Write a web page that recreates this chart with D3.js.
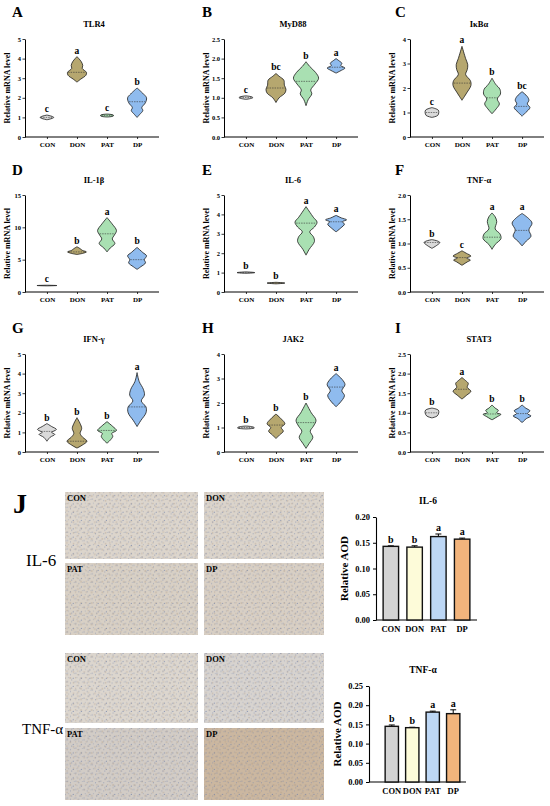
<!DOCTYPE html>
<html lang="en">
<head>
  <meta charset="UTF-8">
  <title></title>
  <style>
    html, body { margin: 0; padding: 0; background: #fff; overflow: hidden; }
    svg { display: block; background: #fff; }
  </style>
</head>
<body>
  <svg></svg>
</body>
<script src="https://d3js.org/d3.v7.min.js"></script>
<script type="text/javascript">
  // ---- data ----
  const groups = ['CON', 'DON', 'PAT', 'DP']
  const genes = ['TLR4', 'MyD88', 'IκBα', 'IL-1β', 'IL-6', 'TNF-α', 'IFN-γ', 'JAK2', 'STAT3']
  const panelLetters = ['A', 'B', 'C', 'D', 'E', 'F', 'G', 'H', 'I']
  const yMaxes = [5, 2.5, 4, 15, 5, 2, 5, 4, 2.5]
  const yTickSteps = [1, 0.5, 1, 5, 1, 0.5, 1, 1, 0.5]

  const sigLetters = [
    ['c', 'a', 'c', 'b'], ['c', 'bc', 'b', 'a'], ['c', 'a', 'b', 'bc'],
    ['c', 'b', 'a', 'b'], ['b', 'b', 'a', 'a'], ['b', 'c', 'a', 'a'],
    ['b', 'b', 'b', 'a'], ['b', 'b', 'b', 'a'], ['b', 'a', 'b', 'b']
  ]

  const medians = [
    [1.0, 3.3, 1.1, 1.8], [1.01, 1.25, 1.42, 1.78], [1.0, 2.2, 1.6, 1.25],
    [1.0, 6.2, 9.0, 5.0], [1.0, 0.46, 3.55, 3.62], [1.02, 0.71, 1.13, 1.27],
    [1.05, 0.55, 1.1, 2.3], [1.0, 1.1, 1.2, 2.65], [1.0, 1.6, 0.97, 0.98]
  ]

  // violin outlines: [value, density], bottom tip to top tip
  const tlr4 = [
    [[0.88, 0], [0.95, 0.5], [1.0, 0.65], [1.05, 0.5], [1.12, 0]],
    [[2.8, 0], [2.95, 0.35], [3.15, 0.85], [3.3, 0.9], [3.5, 0.5], [3.65, 0.55], [3.85, 0.4], [4.1, 0]],
    [[1.02, 0], [1.07, 0.6], [1.12, 0.6], [1.17, 0]],
    [[1.0, 0], [1.15, 0.25], [1.35, 0.55], [1.5, 0.45], [1.75, 0.8], [2.0, 0.9], [2.2, 0.6], [2.5, 0]]
  ]
  const myd88 = [
    [[0.96, 0], [1.0, 0.65], [1.02, 0.6], [1.05, 0]],
    [[0.88, 0], [1.0, 0.3], [1.12, 0.85], [1.22, 0.95], [1.32, 0.8], [1.45, 0.75], [1.55, 0.3], [1.62, 0]],
    [[0.8, 0], [0.95, 0.2], [1.1, 0.55], [1.2, 0.45], [1.35, 0.85], [1.5, 1.2], [1.65, 0.9], [1.8, 0.35], [1.92, 0]],
    [[1.63, 0], [1.7, 0.5], [1.76, 0.85], [1.82, 0.45], [1.88, 0.55], [1.95, 0.25], [2.0, 0]]
  ]
  const ikba = [
    [[0.8, 0], [0.88, 0.55], [1.0, 0.65], [1.1, 0.6], [1.2, 0]],
    [[1.5, 0], [1.8, 0.45], [2.1, 0.85], [2.3, 0.8], [2.55, 0.35], [2.75, 0.5], [2.95, 0.55], [3.2, 0.35], [3.7, 0]],
    [[0.95, 0], [1.15, 0.4], [1.35, 0.7], [1.55, 0.5], [1.75, 0.8], [1.95, 0.75], [2.15, 0.35], [2.4, 0]],
    [[0.85, 0], [1.0, 0.35], [1.2, 0.75], [1.35, 0.5], [1.5, 0.65], [1.65, 0.5], [1.85, 0]]
  ]
  const il1b = [
    [[0.95, 0], [1.0, 0.95], [1.05, 0]],
    [[5.8, 0], [6.0, 0.6], [6.2, 0.9], [6.45, 0.5], [6.7, 0.3], [7.0, 0]],
    [[6.2, 0], [6.8, 0.3], [7.5, 0.75], [8.2, 0.5], [8.8, 0.7], [9.5, 0.9], [10.5, 0.5], [11.5, 0]],
    [[3.5, 0], [3.9, 0.35], [4.5, 0.8], [5.0, 0.7], [5.6, 0.9], [6.1, 0.55], [6.9, 0]]
  ]
  const il6 = [
    [[0.96, 0], [1.0, 0.85], [1.04, 0]],
    [[0.42, 0], [0.46, 0.85], [0.5, 0]],
    [[1.9, 0], [2.2, 0.3], [2.6, 0.8], [2.85, 0.7], [3.1, 0.35], [3.35, 0.8], [3.6, 1.05], [3.85, 0.7], [4.4, 0]],
    [[3.1, 0], [3.3, 0.45], [3.5, 0.8], [3.62, 0.6], [3.72, 1.0], [3.82, 0.5], [3.95, 0]]
  ]
  const tnfa = [
    [[0.9, 0], [0.96, 0.45], [1.02, 0.75], [1.05, 0.55], [1.08, 0]],
    [[0.55, 0], [0.62, 0.5], [0.66, 0.8], [0.7, 0.45], [0.74, 0.85], [0.8, 0.4], [0.85, 0]],
    [[0.88, 0], [0.98, 0.3], [1.1, 0.85], [1.2, 0.75], [1.3, 0.3], [1.45, 0.45], [1.55, 0.3], [1.63, 0]],
    [[0.95, 0], [1.05, 0.4], [1.15, 0.85], [1.28, 0.65], [1.42, 0.95], [1.52, 0.6], [1.62, 0]]
  ]
  const ifng = [
    [[0.55, 0], [0.75, 0.3], [0.9, 0.75], [1.0, 0.45], [1.15, 0.9], [1.3, 0.45], [1.45, 0]],
    [[0.2, 0], [0.35, 0.5], [0.55, 0.95], [0.75, 0.55], [0.95, 0.3], [1.2, 0.45], [1.45, 0.3], [1.75, 0]],
    [[0.45, 0], [0.6, 0.3], [0.8, 0.55], [0.95, 0.45], [1.1, 0.9], [1.3, 0.55], [1.55, 0]],
    [[1.3, 0], [1.6, 0.35], [2.0, 0.85], [2.3, 0.85], [2.6, 0.4], [2.9, 0.7], [3.2, 0.6], [3.6, 0.2], [4.05, 0]]
  ]
  const jak2 = [
    [[0.94, 0], [0.98, 0.8], [1.02, 0.7], [1.06, 0]],
    [[0.55, 0], [0.7, 0.35], [0.85, 0.7], [1.0, 0.5], [1.15, 0.85], [1.35, 0.5], [1.55, 0]],
    [[0.15, 0], [0.35, 0.3], [0.6, 0.65], [0.85, 0.4], [1.05, 0.7], [1.3, 0.95], [1.6, 0.5], [2.0, 0]],
    [[1.85, 0], [2.0, 0.35], [2.3, 0.8], [2.5, 0.55], [2.75, 0.85], [2.95, 0.6], [3.2, 0]]
  ]
  const stat3 = [
    [[0.87, 0], [0.92, 0.5], [1.0, 0.65], [1.07, 0.6], [1.12, 0]],
    [[1.35, 0], [1.45, 0.45], [1.55, 0.85], [1.65, 0.5], [1.75, 0.6], [1.82, 0.35], [1.9, 0]],
    [[0.82, 0], [0.9, 0.5], [0.96, 0.85], [1.0, 0.45], [1.06, 0.6], [1.12, 0.3], [1.2, 0]],
    [[0.75, 0], [0.85, 0.4], [0.92, 0.85], [0.98, 0.5], [1.05, 0.75], [1.12, 0.35], [1.2, 0]]
  ]
  const violins = [tlr4, myd88, ikba, il1b, il6, tnfa, ifng, jak2, stat3]

  // panel J bar charts
  const il6AOD = [0.143, 0.1415, 0.162, 0.157]
  const il6Err = [0.001, 0.0026, 0.005, 0.002]
  const il6Sig = ['b', 'b', 'a', 'a']
  const il6Ticks = [0, 0.05, 0.10, 0.15, 0.20]
  const tnfAOD = [0.145, 0.1415, 0.182, 0.178]
  const tnfErr = [0.0035, 0.001, 0.0025, 0.010]
  const tnfSig = ['b', 'b', 'a', 'a']
  const tnfTicks = [0, 0.05, 0.10, 0.15, 0.20, 0.25]

  // ---- styling ----
  const violinColors = ['#dadada', '#b6a76f', '#a9e0b2', '#8fbbee']
  const barColors = ['#d3d3d3', '#fdfbd9', '#bdd7f5', '#f2b47c']
  const serif = '"Liberation Serif", "Times New Roman", serif'

  const svg = d3.select('svg').attr('width', 550).attr('height', 806)

  const colX = [25, 224, 410]
  const rowTop = [39, 195, 354]
  const rowBottom = [137, 292, 452]
  const plotW = 134
  const letterX = [12, 202, 395]
  const letterY = [17, 175, 333]
  const wScale = d3.scaleLinear().domain([0, 1]).range([0, 10.5])

  function densityAt(profile, v) {
    for (let i = 1; i < profile.length; ++i) {
      const a = profile[i - 1], b = profile[i]
      if (v >= a[0] && v <= b[0]) {
        return a[1] + (b[1] - a[1]) * (v - a[0]) / (b[0] - a[0])
      }
    }
    return 0
  }

  genes.forEach((gene, p) => {
    const col = p % 3, row = Math.floor(p / 3)
    const g = svg.append('g').attr('transform', `translate(${colX[col]},0)`)

    const x = d3.scalePoint().domain(groups).range([0, plotW]).padding(0.73)
    const y = d3.scaleLinear().domain([0, yMaxes[p]]).range([rowBottom[row], rowTop[row]])
    const ticks = d3.range(0, yMaxes[p] + 1e-9, yTickSteps[p])
    const fmt = yTickSteps[p] < 1 ? d3.format('.1f') : d3.format('d')

    // panel letter and title
    svg.append('text')
      .attr('x', letterX[col]).attr('y', letterY[row])
      .attr('font-family', serif).attr('font-weight', 'bold').attr('font-size', 15)
      .text(panelLetters[p])
    g.append('text')
      .attr('x', plotW / 2 + 2).attr('y', rowTop[row] - 12)
      .attr('text-anchor', 'middle')
      .attr('font-family', serif).attr('font-weight', 'bold').attr('font-size', 8.5)
      .text(gene)

    // axes
    const yAxis = g.append('g')
      .call(d3.axisLeft(y).tickValues(ticks).tickFormat(fmt).tickSize(2.5).tickSizeOuter(0))
    const xAxis = g.append('g')
      .attr('transform', `translate(0,${rowBottom[row]})`)
      .call(d3.axisBottom(x).tickSize(2).tickSizeOuter(0).tickPadding(3))
    // x-axis line should run from the y-axis across the whole plot
    xAxis.select('.domain').attr('d', `M0,0H${plotW}`)
    ;[yAxis, xAxis].forEach(a => {
      a.select('.domain').attr('stroke', '#000').attr('stroke-width', 1)
      a.selectAll('.tick line').attr('stroke', '#000').attr('stroke-width', 0.8)
      a.selectAll('text')
        .attr('font-family', serif).attr('font-weight', 'bold').attr('fill', '#000')
    })
    yAxis.selectAll('text').attr('font-size', 6.5).attr('x', -4)
    xAxis.selectAll('text').attr('font-size', 7)

    g.append('text')
      .attr('transform', `translate(-15,${(rowTop[row] + rowBottom[row]) / 2}) rotate(-90)`)
      .attr('text-anchor', 'middle')
      .attr('font-family', serif).attr('font-weight', 'bold').attr('font-size', 8)
      .text('Relative mRNA level')

    // violins
    const area = d3.area().curve(d3.curveCatmullRom.alpha(0.5))
      .y(d => y(d[0]))
    violins[p].forEach((profile, i) => {
      const cx = x(groups[i])
      g.append('path')
        .datum(profile)
        .attr('d', area.x0(d => cx - wScale(d[1])).x1(d => cx + wScale(d[1])))
        .attr('fill', violinColors[i])
        .attr('stroke', '#1a1a1a')
        .attr('stroke-width', 0.8)

      const m = medians[p][i]
      const hw = Math.max(0, wScale(densityAt(profile, m)) - 0.6)
      g.append('line')
        .attr('x1', cx - hw).attr('x2', cx + hw)
        .attr('y1', y(m)).attr('y2', y(m))
        .attr('stroke', '#333').attr('stroke-width', 0.6)
        .attr('stroke-dasharray', '1.5,1')

      const top = profile[profile.length - 1][0]
      g.append('text')
        .attr('x', cx).attr('y', y(top) - 3)
        .attr('text-anchor', 'middle')
        .attr('font-family', serif).attr('font-weight', 'bold').attr('font-size', 9.5)
        .text(sigLetters[p][i])
    })
  })

  // ---- panel J ----
  svg.append('text')
    .attr('x', 13).attr('y', 513)
    .attr('font-family', serif).attr('font-weight', 'bold').attr('font-size', 28)
    .text('J')

  // micrograph-like texture: two speckle tiles of different sizes laid over a base tone
  const defs = svg.append('defs')
  const blueSpots = [[1, 1, 0.55], [4.2, 2.6, 0.5], [6.8, 5.9, 0.6], [2.1, 5.2, 0.45], [5.3, 7.4, 0.55], [7.6, 1.3, 0.4]]
  const brownSpots = [[3, 0.6, 0.9], [0.6, 3.6, 0.8], [6.1, 3.8, 1.0], [2.8, 7.9, 0.8], [9.3, 8.6, 0.9]]
  const speckA = defs.append('pattern').attr('id', 'speckA')
    .attr('width', 8.3).attr('height', 8.3).attr('patternUnits', 'userSpaceOnUse')
  speckA.selectAll('circle').data(blueSpots).enter().append('circle')
    .attr('cx', d => d[0]).attr('cy', d => d[1]).attr('r', d => d[2])
    .attr('fill', '#6f80a8').attr('opacity', 0.75)
  const speckB = defs.append('pattern').attr('id', 'speckB')
    .attr('width', 10.7).attr('height', 10.7).attr('patternUnits', 'userSpaceOnUse')
  speckB.selectAll('circle').data(brownSpots).enter().append('circle')
    .attr('cx', d => d[0]).attr('cy', d => d[1]).attr('r', d => d[2])
    .attr('fill', '#a8937a').attr('opacity', 0.35)

  const tiles = [
    { x: 65, y: 492, w: 133, h: 67, label: 'CON', base: '#dcd5cc' },
    { x: 204, y: 492, w: 120, h: 67, label: 'DON', base: '#dbd4cb' },
    { x: 65, y: 563, w: 133, h: 72, label: 'PAT', base: '#d8d0c5' },
    { x: 204, y: 563, w: 120, h: 72, label: 'DP', base: '#d8cfc4' },
    { x: 65, y: 653, w: 133, h: 70, label: 'CON', base: '#dcd6ce' },
    { x: 204, y: 653, w: 120, h: 70, label: 'DON', base: '#d7d3cf' },
    { x: 65, y: 728, w: 133, h: 72, label: 'PAT', base: '#d2ccc6' },
    { x: 204, y: 728, w: 120, h: 72, label: 'DP', base: '#cbb7a0' }
  ]
  tiles.forEach(t => {
    ;[t.base, 'url(#speckB)', 'url(#speckA)'].forEach(fill => {
      svg.append('rect')
        .attr('x', t.x).attr('y', t.y).attr('width', t.w).attr('height', t.h)
        .attr('fill', fill)
    })
    svg.append('text')
      .attr('x', t.x + 2).attr('y', t.y + 9)
      .attr('font-family', serif).attr('font-weight', 'bold').attr('font-size', 8.5)
      .text(t.label)
  })

  svg.append('text')
    .attr('x', 26).attr('y', 566)
    .attr('font-family', serif).attr('font-size', 17)
    .text('IL-6')
  svg.append('text')
    .attr('x', 22).attr('y', 734)
    .attr('font-family', serif).attr('font-size', 15)
    .text('TNF-α')

  function barChart(opts) {
    const g = svg.append('g')
    const x = d3.scaleBand().domain(groups).range([opts.x0, opts.x1])
      .paddingInner(0.35).paddingOuter(0.3)
    const y = d3.scaleLinear().domain([0, opts.max]).range([opts.bottom, opts.top])

    g.append('text')
      .attr('x', opts.titleX).attr('y', opts.top - 13)
      .attr('text-anchor', 'middle')
      .attr('font-family', serif).attr('font-weight', 'bold').attr('font-size', 9.5)
      .text(opts.title)

    const yAxis = g.append('g').attr('transform', `translate(${opts.axisX},0)`)
      .call(d3.axisLeft(y).tickValues(opts.ticks).tickFormat(d3.format('.2f')).tickSize(3).tickSizeOuter(0))
    const xAxis = g.append('g').attr('transform', `translate(0,${opts.bottom})`)
      .call(d3.axisBottom(x).tickSize(0).tickPadding(6))
    xAxis.select('.domain').attr('d', `M${opts.axisX},0H${opts.x1}`)
    ;[yAxis, xAxis].forEach(a => {
      a.select('.domain').attr('stroke', '#000').attr('stroke-width', 1.1)
      a.selectAll('.tick line').attr('stroke', '#000').attr('stroke-width', 1)
      a.selectAll('text').attr('font-family', serif).attr('font-weight', 'bold')
        .attr('fill', '#000').attr('font-size', 8.5)
    })

    g.append('text')
      .attr('transform', `translate(${opts.axisX - 28},${(opts.top + opts.bottom) / 2}) rotate(-90)`)
      .attr('text-anchor', 'middle')
      .attr('font-family', serif).attr('font-weight', 'bold').attr('font-size', 11)
      .text('Relative AOD')

    groups.forEach((grp, i) => {
      const bx = x(grp), bw = x.bandwidth(), cx = bx + bw / 2
      const v = opts.values[i], e = opts.errors[i]
      g.append('line')
        .attr('x1', cx).attr('x2', cx).attr('y1', y(v)).attr('y2', y(v + e))
        .attr('stroke', '#000').attr('stroke-width', 1)
      g.append('line')
        .attr('x1', cx - 3).attr('x2', cx + 3).attr('y1', y(v + e)).attr('y2', y(v + e))
        .attr('stroke', '#000').attr('stroke-width', 1)
      g.append('rect')
        .attr('x', bx).attr('y', y(v)).attr('width', bw).attr('height', y(0) - y(v))
        .attr('fill', barColors[i]).attr('stroke', '#111').attr('stroke-width', 1.4)
      g.append('text')
        .attr('x', cx).attr('y', y(v + e) - 3)
        .attr('text-anchor', 'middle')
        .attr('font-family', serif).attr('font-weight', 'bold').attr('font-size', 10)
        .text(opts.sig[i])
    })
  }

  barChart({
    title: 'IL-6', titleX: 428, axisX: 376, x0: 376, x1: 477, top: 517, bottom: 620,
    max: 0.2, ticks: il6Ticks, values: il6AOD, errors: il6Err, sig: il6Sig
  })
  barChart({
    title: 'TNF-α', titleX: 423, axisX: 369, x0: 379, x1: 466, top: 686, bottom: 782,
    max: 0.25, ticks: tnfTicks, values: tnfAOD, errors: tnfErr, sig: tnfSig
  })
</script>
</html>
